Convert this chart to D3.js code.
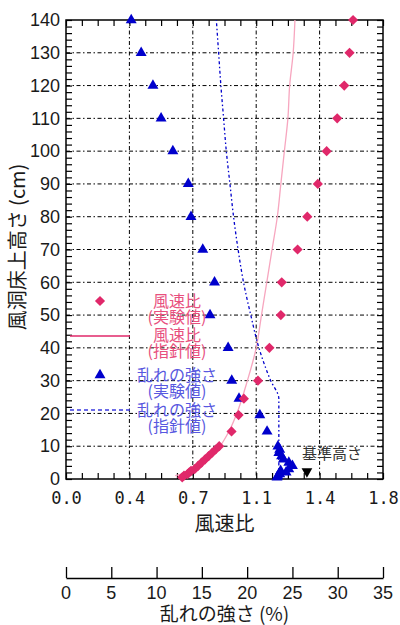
<!DOCTYPE html>
<html>
<head>
<meta charset="utf-8">
<script src="https://cdn.jsdelivr.net/npm/d3@7"></script>
<style>
  body { margin: 0; background: #fff; }
  svg text { font-family: "Liberation Sans", Arial, sans-serif; }
  .jp { font-family: "Noto Sans CJK JP", sans-serif; }
</style>
</head>
<body>
<svg id="chart" width="400" height="625"></svg>
<script>
// Heights of the measuring points (cm):
var heights = [0.5, 1, 1.5, 2, 2.5, 3, 4, 5, 6, 7, 8, 9, 10, 14.5, 19.5, 24.5,
               30, 40, 50, 60, 70, 80, 90, 100, 110, 120, 130, 140];
// Wind speed ratio, experiment:
var windRatio = [0.66, 0.67, 0.69, 0.70, 0.71, 0.73, 0.75, 0.77, 0.79, 0.81, 0.83, 0.85, 0.87, 0.94, 0.98, 1.01,
                 1.09, 1.155, 1.22, 1.225, 1.315, 1.37, 1.43, 1.48, 1.54, 1.58, 1.61, 1.63];
// Turbulence intensity (%), experiment:
var turbulence = [23.3, 23.4, 23.6, 24.3, 23.7, 24.6, 25.0, 24.6, 24.0, 23.8, 23.5, 23.6, 23.4, 22.2, 21.4, 19.1,
                  18.3, 17.9, 15.9, 16.4, 15.1, 13.8, 13.5, 11.8, 10.5, 9.6, 8.3, 7.2];

// Guideline curves:
var guideWindHeights = [1, 2, 3, 5, 7, 10, 15, 20, 30, 40, 50, 60, 70, 80, 90, 100, 110, 120, 130, 140];
var guideWindRatio   = [0.62, 0.69, 0.73, 0.79, 0.83, 0.875, 0.93, 0.97, 1.03, 1.08, 1.11, 1.14, 1.17, 1.20, 1.22, 1.24, 1.26, 1.27, 1.29, 1.30];
var guideTurbHeights = [0, 24.5, 30, 40, 50, 60, 70, 80, 90, 100, 110, 120, 130, 140];
var guideTurb        = [23.5, 23.5, 22.6, 21.3, 20.4, 19.6, 19.0, 18.5, 18.1, 17.7, 17.4, 17.1, 16.85, 16.6];

// Axis ticks:
var xTickValues = [0, 0.36, 0.72, 1.08, 1.44, 1.8];
var xTickLabels = ["0.0", "0.4", "0.7", "1.1", "1.4", "1.8"];
var tTickValues = [0, 5, 10, 15, 20, 25, 30, 35];
var yTickValues = [0, 10, 20, 30, 40, 50, 60, 70, 80, 90, 100, 110, 120, 130, 140];

// Reference height marker:
var refLabel = "基準高さ";
var refTurb = 26.6, refHeight = 2;

// Figure proportions:
var plotLeft = 66, plotRight = 383, plotTop = 20, plotBottom = 479;

var pink = "#e0286a", blue = "#0000cc";

var svg = d3.select("#chart");

var x  = d3.scaleLinear().domain([0, 1.8]).range([plotLeft, plotRight]);
var xt = d3.scaleLinear().domain([0, 35]).range([plotLeft, plotRight]);
var y  = d3.scaleLinear().domain([0, 140]).range([plotBottom, plotTop]);

// Grid lines (dash-dot):
var grid = svg.append("g")
  .attr("stroke", "#000")
  .attr("stroke-width", 1)
  .attr("stroke-dasharray", "4,2.5,1.5,2.5");
grid.selectAll("line.v")
  .data(xTickValues.slice(1, -1))
  .enter().append("line")
    .attr("x1", d => x(d)).attr("x2", d => x(d))
    .attr("y1", plotTop).attr("y2", plotBottom);
grid.selectAll("line.h")
  .data(yTickValues.slice(1, -1))
  .enter().append("line")
    .attr("x1", plotLeft).attr("x2", plotRight)
    .attr("y1", d => y(d)).attr("y2", d => y(d));

// Inward minor ticks on every side:
function tickAxis(axis, transform) {
  var g = svg.append("g")
    .attr("transform", transform)
    .call(axis.tickSizeOuter(0).tickFormat(""));
  g.select(".domain").remove();
  g.selectAll("line").attr("stroke", "#000").attr("stroke-width", 1.2);
}
var xMinor = d3.range(0, 21).map(i => i * 0.09);
var yMinor = d3.range(0, 71).map(i => i * 2);
tickAxis(d3.axisBottom(x).tickValues(xMinor).tickSize(6), "translate(0," + plotTop + ")");
tickAxis(d3.axisTop(x).tickValues(xMinor).tickSize(6), "translate(0," + plotBottom + ")");
tickAxis(d3.axisRight(y).tickValues(yMinor).tickSize(6), "translate(" + plotLeft + ",0)");
tickAxis(d3.axisLeft(y).tickValues(yMinor).tickSize(6), "translate(" + plotRight + ",0)");

// Frame:
svg.append("rect")
  .attr("x", plotLeft).attr("y", plotTop)
  .attr("width", plotRight - plotLeft).attr("height", plotBottom - plotTop)
  .attr("fill", "none").attr("stroke", "#000").attr("stroke-width", 1.5);

// Y axis labels:
var yAxis = svg.append("g")
  .attr("transform", "translate(" + plotLeft + ",0)")
  .call(d3.axisLeft(y).tickValues(yTickValues).tickSize(0).tickPadding(6));
yAxis.select(".domain").remove();
yAxis.selectAll("text")
  .style("font-size", "18px")
  .style("font-family", "'Liberation Sans', Arial, sans-serif")
  .attr("fill", "#1a1a1a");

// X axis labels (wind speed ratio):
var xAxis = svg.append("g")
  .attr("transform", "translate(0," + plotBottom + ")")
  .call(d3.axisBottom(x).tickValues(xTickValues).tickSize(0).tickPadding(13)
    .tickFormat((d, i) => xTickLabels[i]));
xAxis.select(".domain").remove();
xAxis.selectAll("text")
  .style("font-size", "17px")
  .style("font-family", "'DejaVu Sans Mono', monospace")
  .attr("fill", "#1a1a1a");

svg.append("text").attr("class", "jp")
  .attr("x", (plotLeft + plotRight) / 2).attr("y", 531)
  .attr("text-anchor", "middle")
  .style("font-size", "20px").attr("fill", "#1a1a1a")
  .text("風速比");

// Second axis (turbulence intensity):
var tAxis = svg.append("g")
  .attr("transform", "translate(0,578)")
  .call(d3.axisTop(xt).tickValues(tTickValues).tickSize(11).tickSizeOuter(0).tickFormat(""));
tAxis.selectAll("line, path").attr("stroke", "#000").attr("stroke-width", 1.3);
svg.append("g").selectAll("text")
  .data(tTickValues)
  .enter().append("text")
    .attr("x", d => xt(d)).attr("y", 599)
    .attr("text-anchor", "middle")
    .style("font-size", "18px").attr("fill", "#1a1a1a")
    .text(d => d);
svg.append("text").attr("class", "jp")
  .attr("x", (plotLeft + plotRight) / 2).attr("y", 621)
  .attr("text-anchor", "middle")
  .style("font-size", "19px").attr("fill", "#1a1a1a")
  .text("乱れの強さ (%)");

// Y axis title:
svg.append("text").attr("class", "jp")
  .attr("transform", "translate(25,247) rotate(-90)")
  .attr("text-anchor", "middle")
  .style("font-size", "20px").attr("fill", "#1a1a1a")
  .text("風洞床上高さ (cm)");

// Clip for the curves:
svg.append("clipPath").attr("id", "plot-clip")
  .append("rect")
    .attr("x", plotLeft).attr("y", plotTop)
    .attr("width", plotRight - plotLeft).attr("height", plotBottom - plotTop);

var plot = svg.append("g").attr("clip-path", "url(#plot-clip)");

// Guideline curves:
plot.append("path")
  .datum(guideWindHeights.map((h, i) => [guideWindRatio[i], h]))
  .attr("fill", "none")
  .attr("stroke", "#f7a6bf")
  .attr("stroke-width", 1.3)
  .attr("d", d3.line().x(d => x(d[0])).y(d => y(d[1])).curve(d3.curveMonotoneY));

plot.append("path")
  .datum(guideTurbHeights.map((h, i) => [guideTurb[i], h]))
  .attr("fill", "none")
  .attr("stroke", blue)
  .attr("stroke-width", 1.3)
  .attr("stroke-dasharray", "1.5,2.5,3,2.5")
  .attr("d", d3.line().x(d => xt(d[0])).y(d => y(d[1])).curve(d3.curveMonotoneY));

// Markers:
var triangle = d3.symbol(d3.symbolTriangle, 52);
var diamond  = d3.symbol(d3.symbolSquare, 52);

svg.append("g").selectAll("path")
  .data(heights.map((h, i) => [turbulence[i], h]))
  .enter().append("path")
    .attr("d", triangle)
    .attr("fill", blue)
    .attr("transform", d => "translate(" + xt(d[0]) + "," + y(d[1]) + ")");

svg.append("g").selectAll("path")
  .data(heights.map((h, i) => [windRatio[i], h]))
  .enter().append("path")
    .attr("d", diamond)
    .attr("fill", pink)
    .attr("transform", d => "translate(" + x(d[0]) + "," + y(d[1]) + ") rotate(45)");

// Reference height:
svg.append("text").attr("class", "jp")
  .attr("x", 302).attr("y", 459)
  .style("font-size", "15px").attr("fill", "#333")
  .text(refLabel);
svg.append("path")
  .attr("d", d3.symbol(d3.symbolTriangle, 50))
  .attr("fill", "#000")
  .attr("transform", "translate(" + xt(refTurb) + "," + (y(refHeight) - 1) + ") rotate(180)");

// Legend:
var legend = [
  { type: "diamond", lines: ["風速比", "(実験値)"], color: "#e8507e" },
  { type: "solid",   lines: ["風速比", "(指針値)"], color: "#e8507e" },
  { type: "triangle", lines: ["乱れの強さ", "(実験値)"], color: "#5858e0" },
  { type: "dashed",  lines: ["乱れの強さ", "(指針値)"], color: "#5858e0" }
];
var legendY = [301, 336, 375, 410];
var legendBase = [307, 341, 381, 416];
var lg = svg.append("g");
legend.forEach(function(item, i) {
  var cy = legendY[i];
  if (item.type == "diamond") {
    lg.append("path").attr("d", diamond).attr("fill", pink)
      .attr("transform", "translate(100," + cy + ") rotate(45)");
  } else if (item.type == "triangle") {
    lg.append("path").attr("d", triangle).attr("fill", blue)
      .attr("transform", "translate(100," + cy + ")");
  } else {
    lg.append("line")
      .attr("x1", 70).attr("x2", 130).attr("y1", cy).attr("y2", cy)
      .attr("stroke", item.type == "solid" ? pink : "#3a3ae0")
      .attr("stroke-width", 1.3)
      .attr("stroke-dasharray", item.type == "solid" ? null : "4,3");
  }
  item.lines.forEach(function(t, j) {
    lg.append("text").attr("class", "jp")
      .attr("x", 177).attr("y", legendBase[i] + j * 15.5)
      .attr("text-anchor", "middle")
      .style("font-size", "16px")
      .attr("fill", item.color)
      .text(t);
  });
});
</script>
</body>
</html>
